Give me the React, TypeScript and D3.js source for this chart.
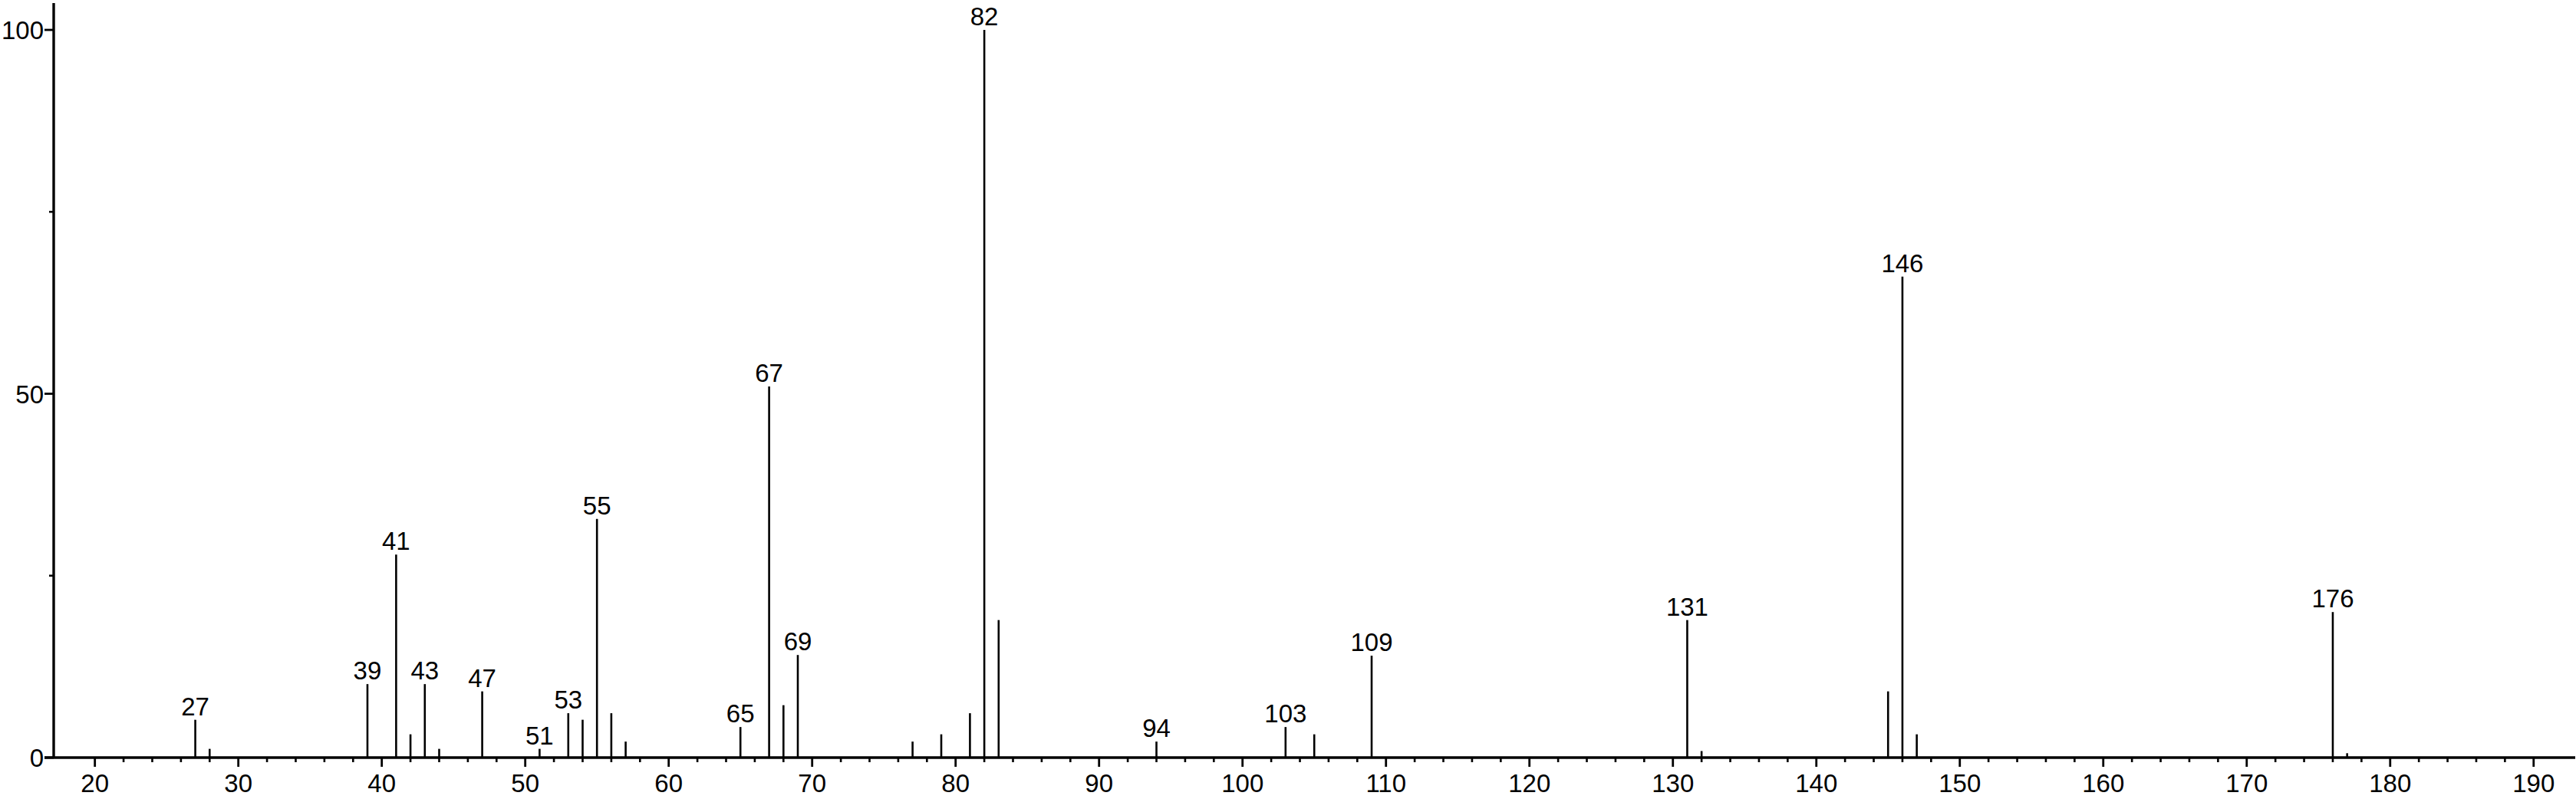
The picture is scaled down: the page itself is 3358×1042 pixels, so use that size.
import React from "react";
import * as d3 from "d3";

const mz = [27, 28, 39, 41, 42, 43, 44, 47, 51, 53, 54, 55, 56, 57, 65, 67, 68, 69, 77, 79, 81, 82, 83, 94, 103, 105, 109, 131, 132, 145, 146, 147, 176, 177];
const intensity = [5.2, 1.2, 10.1, 27.9, 3.2, 10.1, 1.2, 9.1, 1.2, 6.1, 5.2, 32.8, 6.1, 2.2, 4.2, 51.0, 7.2, 14.1, 2.2, 3.2, 6.1, 100, 18.9, 2.2, 4.2, 3.2, 14.0, 18.9, 0.9, 9.1, 66.1, 3.2, 20.0, 0.6];
const labeledPeaks = [27, 39, 41, 43, 47, 51, 53, 55, 65, 67, 69, 82, 94, 103, 109, 131, 146, 176];
const xMajorTicks = [20, 30, 40, 50, 60, 70, 80, 90, 100, 110, 120, 130, 140, 150, 160, 170, 180, 190];
const xMinorTicks = d3.range(22, 190, 2).filter((v) => v % 10 !== 0);
const yMajorTicks = [0, 50, 100];
const yMinorTicks = [25, 75];

const W = 3358;
const H = 1042;
const FONT = "'Liberation Sans', Arial, Helvetica, sans-serif";

export default function App() {
  const x = d3.scaleLinear().domain([17.13, 192.9]).range([70, 3357]);
  const y = d3.scaleLinear().domain([0, 100]).range([988, 39]);
  const axisX = x(17.13);
  const baseY = y(0);
  const topY = 4;

  return (
    <svg
      width={W}
      height={H}
      style={{ position: "absolute", left: 0, top: 0, background: "#fff" }}
      fontFamily={FONT}
    >
      <rect x={0} y={0} width={W} height={H} fill="#fff" />
      {/* peaks */}
      {mz.map((m, i) => (
        <line
          key={"p" + m}
          x1={x(m)}
          x2={x(m)}
          y1={baseY}
          y2={y(intensity[i])}
          stroke="#000"
          strokeWidth={2.6}
        />
      ))}
      {/* peak labels */}
      {mz.map((m, i) =>
        labeledPeaks.includes(m) ? (
          <text
            key={"l" + m}
            x={x(m)}
            y={y(intensity[i]) - 6}
            textAnchor="middle"
            fontSize={33}
            fill="#000"
          >
            {m}
          </text>
        ) : null
      )}
      {/* x axis */}
      <line x1={axisX - 12} x2={3357} y1={baseY} y2={baseY} stroke="#000" strokeWidth={3.4} />
      {xMajorTicks.map((t) => (
        <g key={"xt" + t}>
          <line x1={x(t)} x2={x(t)} y1={baseY} y2={baseY + 12} stroke="#000" strokeWidth={2.8} />
          <text x={x(t)} y={baseY + 45} textAnchor="middle" fontSize={33} fill="#000">
            {t}
          </text>
        </g>
      ))}
      {xMinorTicks.map((t) => (
        <line key={"xm" + t} x1={x(t)} x2={x(t)} y1={baseY} y2={baseY + 6} stroke="#000" strokeWidth={2.6} />
      ))}
      {/* y axis */}
      <line x1={axisX} x2={axisX} y1={topY} y2={baseY} stroke="#000" strokeWidth={3.4} />
      {yMajorTicks.map((t) => (
        <g key={"yt" + t}>
          <line x1={axisX - 12} x2={axisX} y1={y(t)} y2={y(t)} stroke="#000" strokeWidth={2.8} />
          <text x={axisX - 13} y={y(t) + 12} textAnchor="end" fontSize={33} fill="#000">
            {t}
          </text>
        </g>
      ))}
      {yMinorTicks.map((t) => (
        <line key={"ym" + t} x1={axisX - 6} x2={axisX} y1={y(t)} y2={y(t)} stroke="#000" strokeWidth={2.6} />
      ))}
    </svg>
  );
}
